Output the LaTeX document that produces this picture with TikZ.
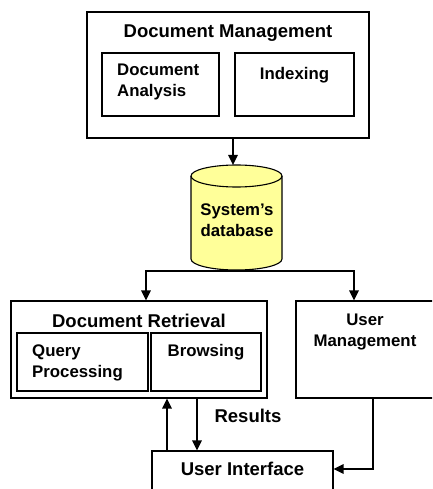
\documentclass[tikz,border=0pt]{standalone}
\usepackage{fontspec}
\setmainfont{Liberation Sans}
\usetikzlibrary{arrows.meta}
\definecolor{dbyellow}{RGB}{255,255,153}
\tikzset{
  box/.style={draw, line width=1.1pt, inner sep=0pt},
  big/.style={inner sep=0pt, font=\bfseries\fontsize{18.5}{22}\selectfont},
  small/.style={inner sep=0pt, font=\bfseries\fontsize{16.8}{21.5}\selectfont},
  arr/.style={line width=1.7pt, -{Triangle[length=10pt,width=9.5pt]}},
  conn/.style={line width=1.7pt}
}
\begin{document}
\begin{tikzpicture}[x=1pt,y=1pt]
\useasboundingbox (0,0) rectangle (432,-489);
\clip (0,0) rectangle (432,-489);
% boxes
\node[box, minimum width=282pt, minimum height=126pt] (dm) at (228,-75) {};
\node[box, minimum width=117pt, minimum height=63pt] (da) at (160.5,-84.5) {};
\node[box, minimum width=119pt, minimum height=63pt] (idx) at (294.5,-84.5) {};
\node[box, minimum width=256pt, minimum height=97pt] (dr) at (139,-349.5) {};
\node[box, minimum width=131pt, minimum height=58pt] (qp) at (82.5,-362) {};
\node[box, minimum width=110pt, minimum height=58pt] (br) at (206,-362) {};
\node[box, minimum width=138pt, minimum height=97pt] (um) at (365,-349.5) {};
\node[box, minimum width=181pt, minimum height=50pt] (ui) at (242.5,-476) {};
% database cylinder
\draw[line width=1.1pt, fill=dbyellow] (191,-176) -- (191,-259)
  arc[start angle=180, end angle=360, x radius=45.5pt, y radius=11pt]
  -- (282,-176)
  arc[start angle=0, end angle=180, x radius=45.5pt, y radius=11pt] -- cycle;
\draw[line width=1.1pt] (282,-176)
  arc[start angle=0, end angle=-180, x radius=45.5pt, y radius=11pt];
\node[small, align=center] (db) at (237,-220) {System’s\\database};
% texts
\node[big] (tdm) at (228,-33) {Document Management};
\node[small, align=left, anchor=west] (tda) at (117,-82) {Document\\Analysis};
\node[small] (tidx) at (294.5,-75) {Indexing};
\node[big] (tdr) at (139,-321) {Document Retrieval};
\node[small, align=left, anchor=west] (tqp) at (32,-363) {Query\\Processing};
\node[small] (tbr) at (206,-352) {Browsing};
\node[small, align=center] (tum) at (365,-332) {User\\Management};
\node[big] (tres) at (248,-416) {Results};
\node[big] (tui) at (242.5,-469) {User Interface};
% connectors
\coordinate (dbtop) at (233,-165);
\coordinate (dbbot) at (236.5,-271);
\coordinate (drin) at (146,-301);
\coordinate (umin) at (354,-301);
\coordinate (u1) at (167,-451);
\coordinate (d1) at (197,-398);
\coordinate (u2) at (373,-469);
\draw[arr] (dbtop |- dm.south) -- (dbtop);
\draw[conn] (dbbot) -| ([yshift=10pt]drin);
\draw[conn] (dbbot) -| ([yshift=10pt]umin);
\draw[arr] (dbbot -| drin) -- (drin |- dr.north);
\draw[arr] (dbbot -| umin) -- (umin |- um.north);
\draw[arr] (u1 |- ui.north) -- (u1 |- dr.south);
\draw[arr] (d1 |- dr.south) -- (d1 |- ui.north);
\draw[arr] (u2 |- um.south) -- (u2) -- (u2 -| ui.east);
\end{tikzpicture}
\end{document}
